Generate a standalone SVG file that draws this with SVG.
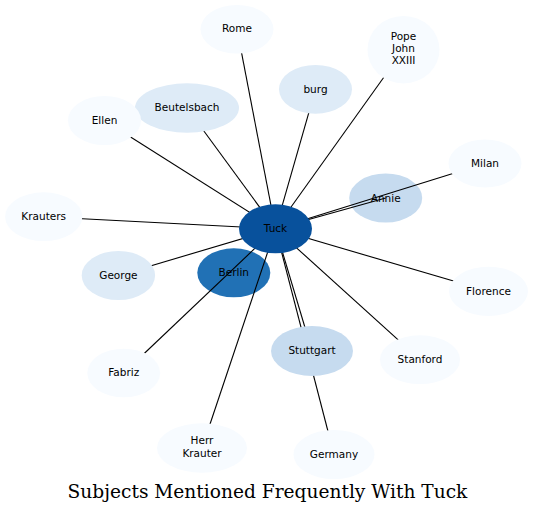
<svg xmlns="http://www.w3.org/2000/svg" width="533" height="515" viewBox="0 0 533 515">
<style>
.n0{fill:#f7fbff}
.n1{fill:#deebf7}
.n2{fill:#c6dbef}
.n3{fill:#2171b5}
.n4{fill:#08519c}
text{font-family:"DejaVu Sans","Liberation Sans",sans-serif;font-size:10.5px;fill:#000;text-anchor:middle}
.edges line{stroke:#000;stroke-width:1.1}
.title{font-family:"DejaVu Serif","Liberation Serif",serif;font-size:18.6px}
</style>
<rect width="533" height="515" fill="#fff"/>
<g id="node-berlin"><ellipse class="n3" cx="233.8" cy="272.8" rx="36.5" ry="24.5"/><text x="233.8" y="276.3">Berlin</text></g>
<g id="node-annie"><ellipse class="n2" cx="385.7" cy="198" rx="36.5" ry="24.5"/><text x="385.7" y="201.5">Annie</text></g>
<g class="edges" id="connectors">
<line x1="275.5" y1="228.8" x2="237" y2="29.2"/>
<line x1="275.5" y1="228.8" x2="403.5" y2="49.7"/>
<line x1="275.5" y1="228.8" x2="315.5" y2="89.3"/>
<line x1="275.5" y1="228.8" x2="187" y2="108"/>
<line x1="275.5" y1="228.8" x2="104.5" y2="120.5"/>
<line x1="275.5" y1="228.8" x2="485" y2="163.5"/>
<line x1="275.5" y1="228.8" x2="385.7" y2="198"/>
<line x1="275.5" y1="228.8" x2="43.7" y2="216.7"/>
<line x1="275.5" y1="228.8" x2="118.4" y2="275.5"/>
<line x1="275.5" y1="228.8" x2="488.5" y2="291.3"/>
<line x1="275.5" y1="228.8" x2="123.7" y2="373"/>
<line x1="275.5" y1="228.8" x2="202" y2="448"/>
<line x1="275.5" y1="228.8" x2="312" y2="351"/>
<line x1="275.5" y1="228.8" x2="334" y2="454.5"/>
<line x1="275.5" y1="228.8" x2="420" y2="359.7"/>
</g>
<g id="node-tuck"><ellipse class="n4" cx="275.5" cy="228.8" rx="36.5" ry="24.5"/><text x="275.5" y="232.3">Tuck</text></g>
<g id="node-rome"><ellipse class="n0" cx="237" cy="29.2" rx="36.5" ry="24.3"/><text x="237" y="32">Rome</text></g>
<g id="node-pope"><ellipse class="n0" cx="403.5" cy="49.7" rx="36" ry="33.7"/><text x="403.5" y="39.5">Pope</text><text x="403.5" y="51.8">John</text><text x="403.5" y="64.2">XXIII</text></g>
<g id="node-burg"><ellipse class="n1" cx="315.5" cy="89.3" rx="36.5" ry="24.4"/><text x="315.5" y="92.5">burg</text></g>
<g id="node-beutelsbach"><ellipse class="n1" cx="187" cy="108" rx="52" ry="24.7"/><text x="187" y="111.2">Beutelsbach</text></g>
<g id="node-ellen"><ellipse class="n0" cx="104.5" cy="120.5" rx="36.5" ry="24.5"/><text x="104.5" y="123.7">Ellen</text></g>
<g id="node-milan"><ellipse class="n0" cx="485" cy="163.5" rx="36.5" ry="24"/><text x="485" y="166.7">Milan</text></g>
<g id="node-krauters"><ellipse class="n0" cx="43.7" cy="216.7" rx="38.6" ry="24.4"/><text x="43.7" y="219.9">Krauters</text></g>
<g id="node-george"><ellipse class="n1" cx="118.4" cy="275.5" rx="36.7" ry="24.5"/><text x="118.4" y="278.7">George</text></g>
<g id="node-florence"><ellipse class="n0" cx="488.5" cy="291.3" rx="39.5" ry="24.6"/><text x="488.5" y="294.5">Florence</text></g>
<g id="node-fabriz"><ellipse class="n0" cx="123.7" cy="373" rx="36.4" ry="24.3"/><text x="123.7" y="376.2">Fabriz</text></g>
<g id="node-herrkrauter"><ellipse class="n0" cx="202" cy="448" rx="45" ry="24.7"/><text x="202" y="444.3">Herr</text><text x="202" y="456.6">Krauter</text></g>
<g id="node-stuttgart"><ellipse class="n2" cx="312" cy="351" rx="41" ry="25"/><text x="312" y="353.8">Stuttgart</text></g>
<g id="node-stanford"><ellipse class="n0" cx="420" cy="359.7" rx="40" ry="24.4"/><text x="420" y="362.9">Stanford</text></g>
<g id="node-germany"><ellipse class="n0" cx="334" cy="454.5" rx="40.5" ry="24.5"/><text x="334" y="457.7">Germany</text></g>
<text class="title" x="267.5" y="498">Subjects Mentioned Frequently With Tuck</text>
</svg>
